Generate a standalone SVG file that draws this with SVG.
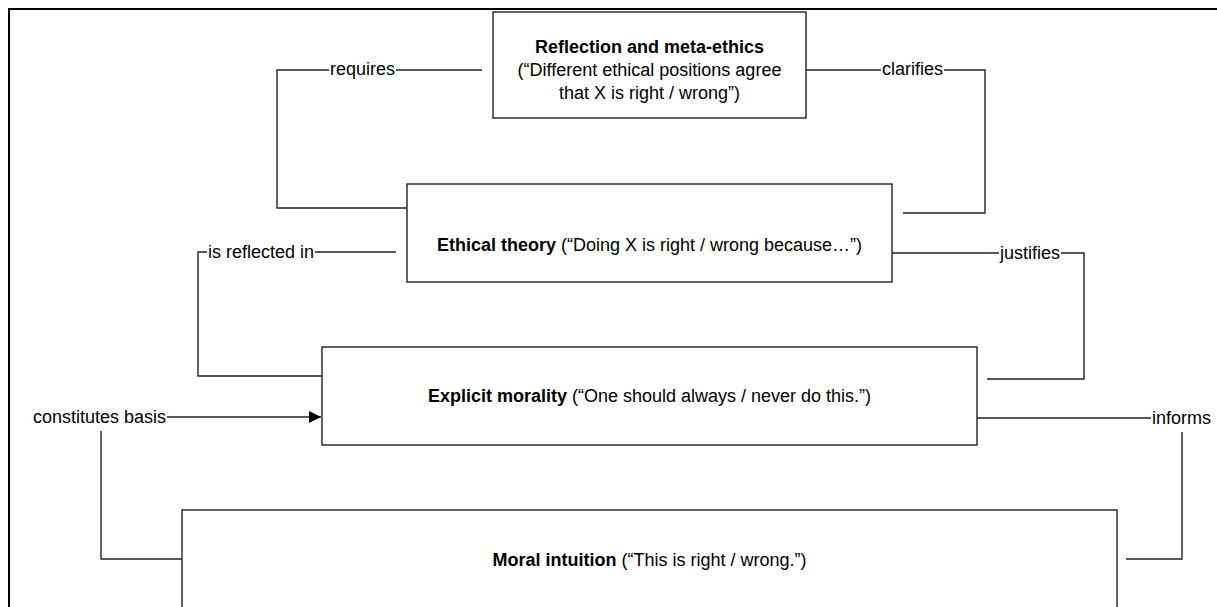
<svg xmlns="http://www.w3.org/2000/svg" width="1217" height="607" viewBox="0 0 1217 607">
<style>
text{font-family:"Liberation Sans",Arial,sans-serif;font-size:18px;fill:#000}
.b{font-weight:bold}
.box{fill:#fff;stroke:#222;stroke-width:1.4}
.c{fill:none;stroke:#222;stroke-width:1.4}
.m{text-anchor:middle}
</style>
<defs>
<marker id="arr" viewBox="0 0 12 12" refX="12" refY="6" markerWidth="12" markerHeight="12" markerUnits="userSpaceOnUse" orient="auto">
<path d="M0,0 L12,6 L0,12 z" fill="#000"/>
</marker>
</defs>
<rect width="1217" height="607" fill="#fff"/>
<path d="M9,620 V9 H1230" fill="none" stroke="#000" stroke-width="2"/>
<g id="connectors">
<path class="c" d="M329,70 H277 V208 H407"/>
<path class="c" d="M396,70 H482"/>
<text x="330" y="75">requires</text>
<path class="c" d="M806,70 H881"/>
<path class="c" d="M944,70 H985 V213 H903"/>
<text x="882" y="75">clarifies</text>
<path class="c" d="M207,252 H198 V376 H322"/>
<path class="c" d="M315,252 H396"/>
<text x="208" y="258">is reflected in</text>
<path class="c" d="M892,253 H999"/>
<path class="c" d="M1061,253 H1084 V379 H987"/>
<text x="1000" y="259">justifies</text>
<path class="c" d="M167,417 H321" marker-end="url(#arr)"/>
<path class="c" d="M101,431 V559 H182"/>
<text x="33" y="423">constitutes basis</text>
<path class="c" d="M977,418 H1151"/>
<path class="c" d="M1182,432 V559 H1126"/>
<text x="1152" y="424">informs</text>
</g>
<g id="reflection">
<rect class="box" x="493" y="12" width="313" height="106"/>
<text class="m b" x="649.5" y="53">Reflection and meta-ethics</text>
<text class="m" x="649.5" y="76">(“Different ethical positions agree</text>
<text class="m" x="649.5" y="99">that X is right / wrong”)</text>
</g>
<g id="ethical">
<rect class="box" x="407" y="184" width="485" height="98"/>
<text class="m" x="649.5" y="251"><tspan class="b">Ethical theory</tspan> (“Doing X is right / wrong because…”)</text>
</g>
<g id="explicit">
<rect class="box" x="322" y="347" width="655" height="98"/>
<text class="m" x="649.5" y="402"><tspan class="b">Explicit morality</tspan> (“One should always / never do this.”)</text>
</g>
<g id="moral">
<rect class="box" x="182" y="510" width="935" height="120"/>
<text class="m" x="649.5" y="566"><tspan class="b">Moral intuition</tspan> (“This is right / wrong.”)</text>
</g>
</svg>
